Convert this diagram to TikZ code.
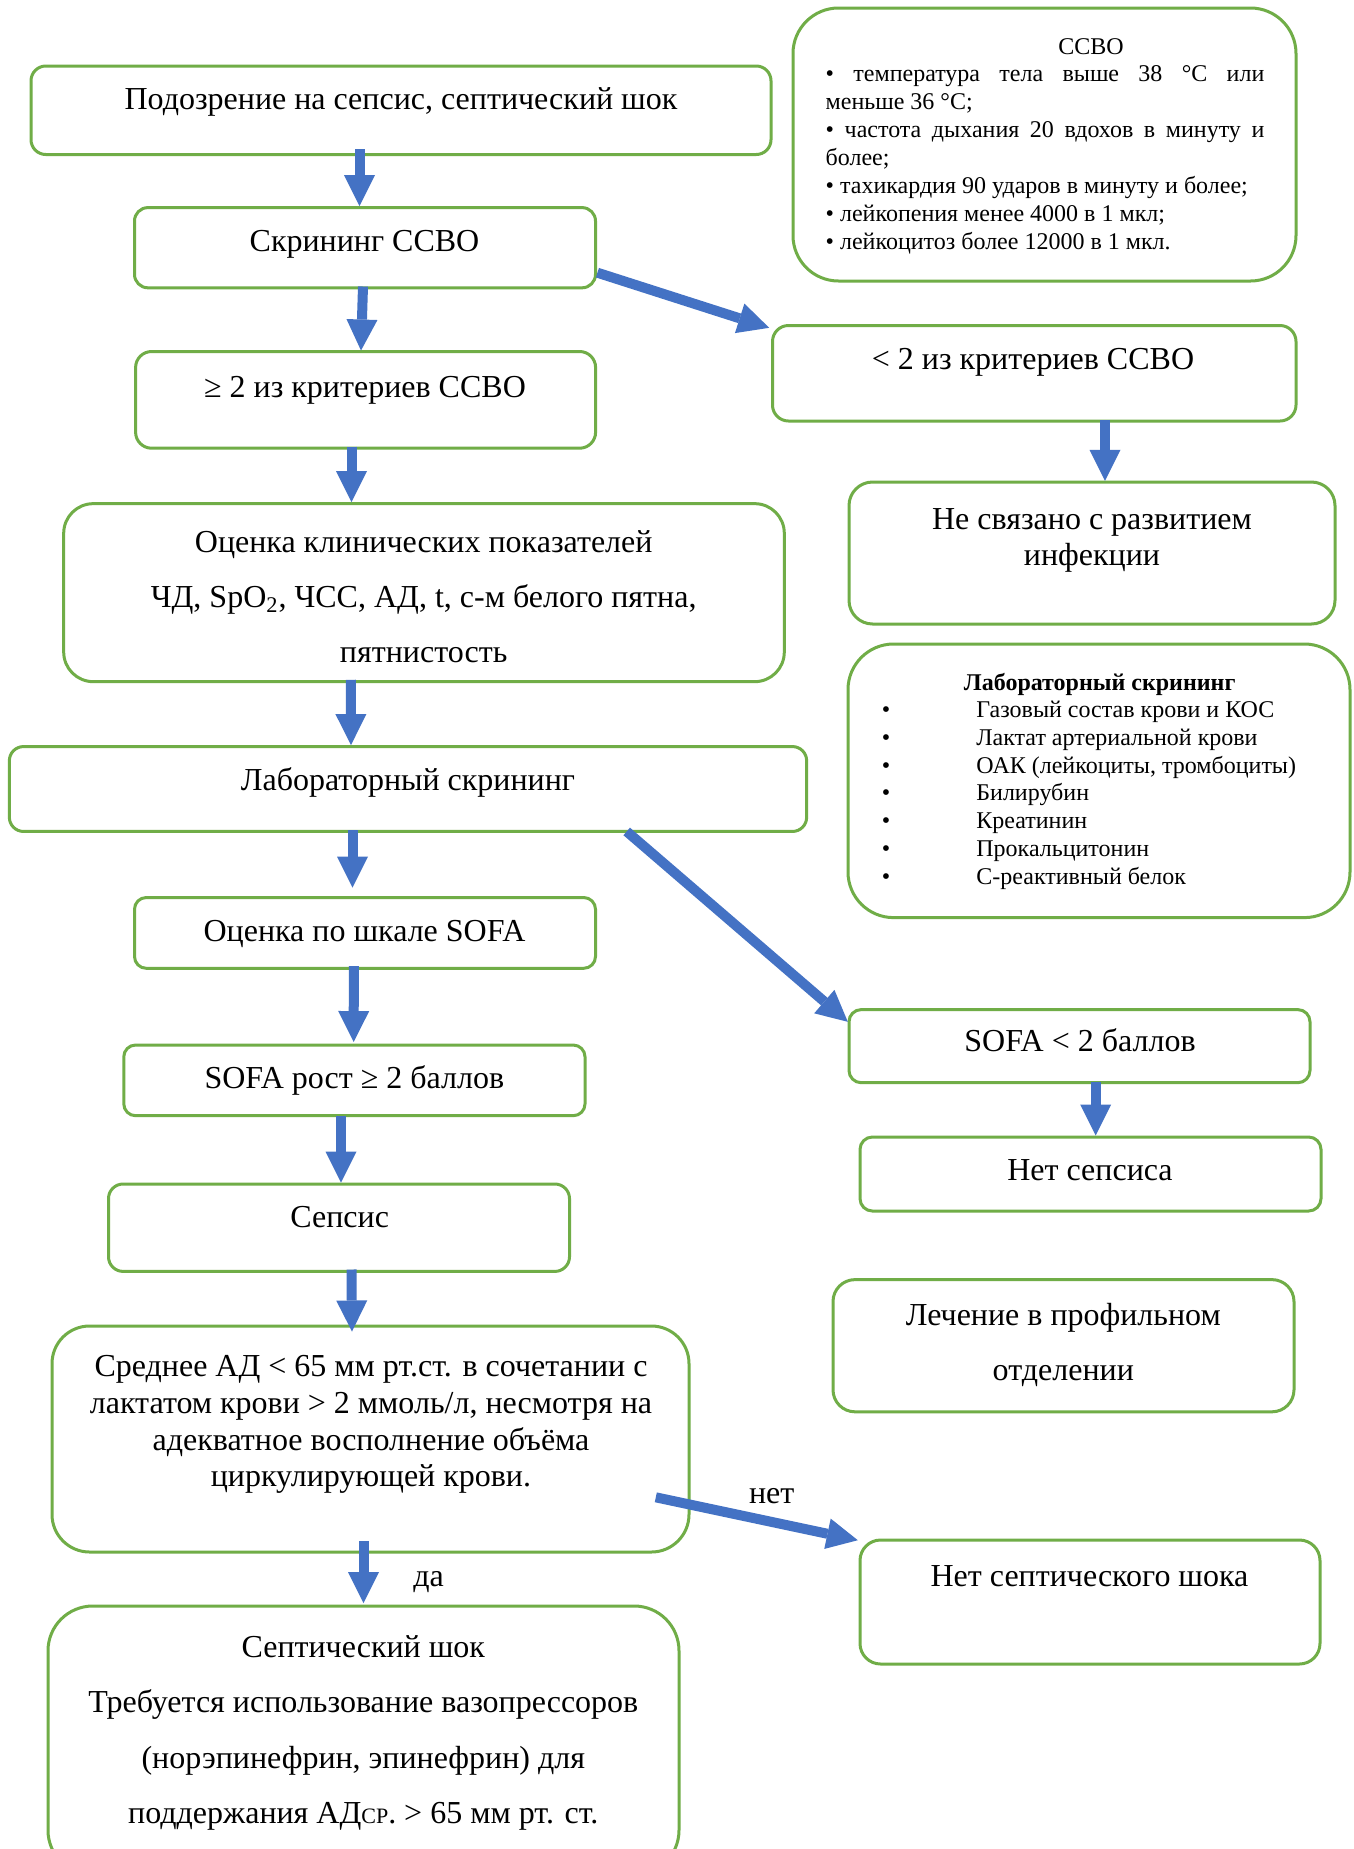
\documentclass[tikz,border=0pt]{standalone}
\usepackage{fontspec}
\setmainfont{Liberation Serif}
\usetikzlibrary{arrows.meta,calc}
\definecolor{gr}{HTML}{70AD47}
\definecolor{bl}{HTML}{4472C4}
\begin{document}
\begin{tikzpicture}[x=0.5pt,y=-0.5pt,
  box/.style={draw=gr, line width=1.5pt, rectangle, inner sep=0pt},
  arr/.style={draw=bl, line width=5pt, -{Triangle[width=15.5pt,length=15.5pt,line width=0pt]}},
  big/.style={font=\fontsize{16}{18.4}\selectfont, inner sep=0pt, anchor=base},
  small/.style={font=\fontsize{12}{13.8}\selectfont, inner sep=0pt, anchor=base}]
\useasboundingbox (0,0) rectangle (1354,1849);
\fill[white] (0,0) rectangle (1354,1849);

% boxes
\node[box, minimum width=370pt, minimum height=44.25pt, rounded corners=7.4pt] (A) at (401,110.25) {};
\node[box, minimum width=230.5pt, minimum height=40.1pt, rounded corners=6.7pt] (B) at (365,247.7) {};
\node[box, minimum width=230pt, minimum height=48.35pt, rounded corners=8pt] (C) at (365.6,399.85) {};
\node[box, minimum width=360.3pt, minimum height=89pt, rounded corners=14.8pt] (D) at (424,592.65) {};
\node[box, minimum width=398.65pt, minimum height=42.45pt, rounded corners=7.1pt] (E) at (408,789) {};
\node[box, minimum width=230.5pt, minimum height=35.4pt, rounded corners=5.9pt] (F) at (365,932.9) {};
\node[box, minimum width=230.6pt, minimum height=35.35pt, rounded corners=5.9pt] (G) at (354.4,1080.35) {};
\node[box, minimum width=230.5pt, minimum height=43.7pt, rounded corners=7.3pt] (H) at (339,1227.7) {};
\node[box, minimum width=318.5pt, minimum height=113pt, rounded corners=18.8pt] (I) at (370.5,1439) {};
\node[box, minimum width=315.5pt, minimum height=134.5pt, rounded corners=22.4pt] (J) at (363.5,1740.5) {};
\node[box, minimum width=251.5pt, minimum height=136.5pt, rounded corners=22.75pt] (K) at (1044.5,144.5) {};
\node[box, minimum width=261.75pt, minimum height=47.75pt, rounded corners=8pt] (L) at (1034.25,373.25) {};
\node[box, minimum width=243pt, minimum height=71pt, rounded corners=11.8pt] (M) at (1092,553) {};
\node[box, minimum width=251pt, minimum height=136.8pt, rounded corners=22.8pt] (N) at (1099,780.8) {};
\node[box, minimum width=230.5pt, minimum height=36.55pt, rounded corners=6.1pt] (O) at (1079.5,1046.15) {};
\node[box, minimum width=230.5pt, minimum height=37pt, rounded corners=6.2pt] (P) at (1090.5,1174) {};
\node[box, minimum width=230.5pt, minimum height=66.1pt, rounded corners=11pt] (Q) at (1063.5,1345.7) {};
\node[box, minimum width=230pt, minimum height=62pt, rounded corners=10.3pt] (R) at (1090,1602) {};

% texts
\node[big] (tA) at (401,109.5) {Подозрение на сепсис, септический шок};
\node[big] (tB) at (364.5,251.5) {Скрининг ССВО};
\node[big] (tC) at (365,397.5) {≥ 2 из критериев ССВО};
\node[big, font=\fontsize{16}{27.5}\selectfont] (tD) at (423.7,552.2) {\begin{tabular}[t]{@{}c@{}}Оценка клинических показателей\\ЧД, SpO\textsubscript{2}, ЧСС, АД, t, с-м белого пятна,\\пятнистость\end{tabular}};
\node[big] (tE) at (408,790.8) {Лабораторный скрининг};
\node[big] (tF) at (364.5,941) {Оценка по шкале SOFA};
\node[big] (tG) at (354.4,1088.5) {SOFA рост ≥ 2 баллов};
\node[big] (tH) at (339.7,1227.5) {Сепсис};
\node[big, font=\fontsize{16}{18.4}\selectfont] (tI) at (371,1376.5) {\begin{tabular}[t]{@{}c@{}}Среднее АД < 65 мм рт.ст. в сочетании с\\лактатом крови > 2 ммоль/л, несмотря на\\адекватное восполнение объёма\\циркулирующей крови.\end{tabular}};
\node[big, font=\fontsize{16}{27.75}\selectfont] (tJ) at (363.3,1657) {\begin{tabular}[t]{@{}c@{}}Септический шок\\Требуется использование вазопрессоров\\(норэпинефрин, эпинефрин) для\\поддержания АД{\fontsize{11}{11}\selectfont СР}. > 65 мм рт. ст.\end{tabular}};
\node[small] (tK1) at (1091,54) {ССВО};
\node[anchor=base west, inner sep=0pt, font=\fontsize{12}{13.95}\selectfont] (tK) at (825.3,81.7) {\parbox[t]{219.35pt}{\hyphenpenalty=10000 \tolerance=10000 \parindent=0pt
• температура тела выше 38 °C или\linebreak меньше 36 °C;\par
• частота дыхания 20 вдохов в минуту и\linebreak более;\par
• тахикардия 90 ударов в минуту и более;\par
• лейкопения менее 4000 в 1 мкл;\par
• лейкоцитоз более 12000 в 1 мкл.}};
\node[big] (tL) at (1033,369.5) {< 2 из критериев ССВО};
\node[big, font=\fontsize{16}{18.25}\selectfont] (tM) at (1092,529.2) {\begin{tabular}[t]{@{}c@{}}Не связано с развитием\\инфекции\end{tabular}};
\node[small, font=\bfseries\fontsize{12}{13.85}\selectfont] (tN1) at (1099.7,690) {Лабораторный скрининг};
\node[anchor=base west, inner sep=0pt, font=\fontsize{12}{13.85}\selectfont] (tN) at (881.5,717.8) {\begin{tabular}[t]{@{}p{47.25pt}@{}l@{}}
•&Газовый состав крови и КОС\\
•&Лактат артериальной крови\\
•&ОАК (лейкоциты, тромбоциты)\\
•&Билирубин\\
•&Креатинин\\
•&Прокальцитонин\\
•&С-реактивный белок\end{tabular}};
\node[big] (tO) at (1080,1051.8) {SOFA < 2 баллов};
\node[big] (tP) at (1090,1180.4) {Нет сепсиса};
\node[big, font=\fontsize{16}{27.5}\selectfont] (tQ) at (1063.3,1325.5) {\begin{tabular}[t]{@{}c@{}}Лечение в профильном\\отделении\end{tabular}};
\node[big] (tR) at (1089.5,1586.4) {Нет септического шока};
\node[big] (net) at (771.7,1503.5) {нет};
\node[big] (da) at (428.6,1586) {да};

% arrows
\draw[arr] ($(A.south)+(-41.5,-6.8)$) -- ($(B.north)+(-5.5,0)$);
\draw[arr] ($(B.south)+(-2,-2.8)$) -- ($(C.north)+(-4.6,0.5)$);
\draw[arr] ($(B.east)+(0.4,25)$) -- ($(L.north west)+(-1.8,3.8)$);
\draw[arr] ($(C.south)+(-14.1,-3.2)$) -- ($(D.north)+(-72.5,0)$);
\draw[arr] ($(D.south)+(-73.2,-3.4)$) -- ($(E.north)+(-57,0)$);
\draw[arr] ($(E.south)+(-55.5,-2.5)$) -- ($(F.north)+(-12.5,-8.5)$);
\draw[arr] ($(E.south)+(218.7,-1.5)$) -- ($(O.north west)+(0.3,13.7)$);
\draw[arr] ($(F.south)+(-11.2,-3.6)$) -- ($(G.north)+(-0.7,-1.5)$);
\draw[arr] ($(G.south)+(-13.4,-1)$) -- ($(H.north)+(2,0)$);
\draw[arr] ($(H.south)+(12.5,-3.4)$) -- ($(I.north)+(-18.5,7)$);
\draw[arr] ($(I.south)+(-7,-12.2)$) -- ($(J.north)+(0,-1.4)$);
\draw[arr] ($(I.east)+(-34.7,58.3)$) -- ($(R.north west)+(-0.7,1.7)$);
\draw[arr] ($(L.south)+(70.75,-2.3)$) -- ($(M.north)+(13,0.4)$);
\draw[arr] ($(O.south)+(16.2,-2)$) -- ($(P.north)+(5.2,0)$);
\end{tikzpicture}
\end{document}
